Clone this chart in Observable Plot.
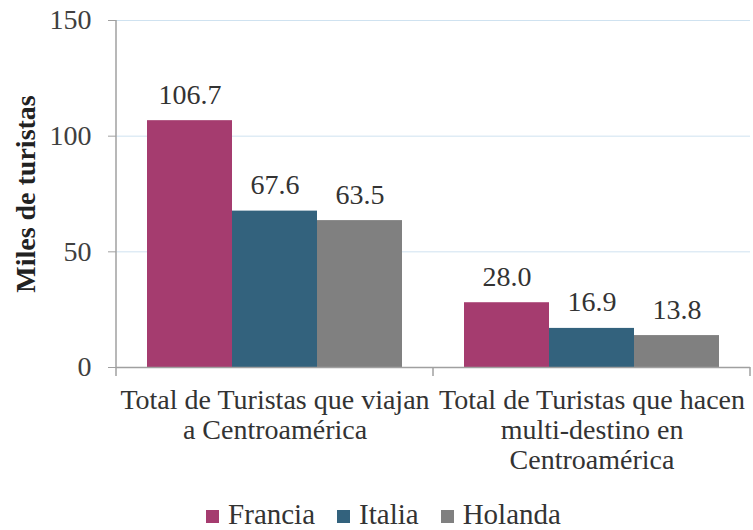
<!DOCTYPE html>
<html>
<head>
<meta charset="utf-8">
<script src="https://cdn.jsdelivr.net/npm/d3@7"></script>
<script src="https://cdn.jsdelivr.net/npm/@observablehq/plot@0.6"></script>
<style>
  body { margin: 0; background: #fff; font-family: "Liberation Serif", "DejaVu Serif", serif; overflow: hidden; }
  #chart { height: 495px; }
  #chart svg, #chart svg text { font-family: "Liberation Serif", "DejaVu Serif", serif !important; overflow: visible; }
  #chart g[aria-label="y-axis label"] text { font-weight: bold; fill: #222; }
  .legend { display: flex; justify-content: center; align-items: flex-end; height: 34px; font-size: 29px; line-height: 29px; color: #333; gap: 22px; padding-left: 14px; }
  .legend span.sw { display: inline-block; width: 13px; height: 13px; margin-right: 9px; margin-top: 3px; }
  .legend .item { display: flex; align-items: center; }
</style>
</head>
<body>
<div id="chart"></div>
<script>
const categories = ["Total de Turistas que viajan\na Centroamérica", "Total de Turistas que hacen\nmulti-destino en\nCentroamérica"];
const countries = ["Francia", "Italia", "Holanda"];
const colors = ["#A53C6F", "#33627D", "#808080"];
const francia = [106.7, 28.0];
const italia = [67.6, 16.9];
const holanda = [63.5, 13.8];
const yTicks = [0, 50, 100, 150];

const series = [francia, italia, holanda];
const data = [];
categories.forEach((c, i) => countries.forEach((k, j) => data.push({cat: c, country: k, value: series[j][i]})));

const plot = Plot.plot({
  width: 753,
  height: 495,
  marginLeft: 116,
  marginRight: 3,
  marginTop: 20,
  marginBottom: 128,
  style: {fontFamily: "'Liberation Serif', 'DejaVu Serif', serif", fontSize: "28px", color: "#404040", background: "#fff"},
  fx: {domain: categories, paddingInner: 0, paddingOuter: 0},
  x: {domain: countries, paddingInner: 0, paddingOuter: 0.354, axis: null},
  y: {domain: [0, 150]},
  color: {domain: countries, range: colors},
  marks: [
    Plot.gridY(yTicks.slice(1), {stroke: "#cfe2f0", strokeOpacity: 1}),
    Plot.barY(data, {fx: "cat", x: "country", y: "value", fill: "country"}),
    Plot.text(data, {fx: "cat", x: "country", y: "value", text: d => d.value.toFixed(1), dy: -26, fontSize: 28, fill: "#333"}),
    Plot.ruleY([0], {stroke: "#a0a0a0", strokeWidth: 1.5}),
    Plot.axisY({ticks: yTicks, tickSize: 8, tickPadding: 17, fontSize: 28, stroke: "#a0a0a0", fill: "#404040",
      label: "Miles de turistas", labelAnchor: "center", labelArrow: false, labelOffset: 101}),
    Plot.axisFx({anchor: "bottom", tickSize: 0, tickPadding: 20, fontSize: 28, lineHeight: 1.07, fill: "#333", label: null})
  ]
});

document.getElementById("chart").appendChild(plot);

// axis line and category boundary ticks using the plot's scales
const fx = plot.scale("fx"), y = plot.scale("y");
const svg = d3.select(plot);
const x0 = fx.range[0], x1 = fx.range[1];
svg.append("line").attr("x1", x0).attr("x2", x0).attr("y1", y.apply(150)).attr("y2", y.apply(0))
  .attr("stroke", "#a0a0a0").attr("stroke-width", 1.5);
const bounds = fx.domain.map(d => fx.apply(d)).concat([x1]);
bounds.forEach(b => svg.append("line").attr("x1", b).attr("x2", b).attr("y1", y.apply(0)).attr("y2", y.apply(0) + 9)
  .attr("stroke", "#a0a0a0").attr("stroke-width", 1.5));

// legend
const legend = d3.select("body").append("div").attr("class", "legend");
countries.forEach((k, i) => {
  const it = legend.append("div").attr("class", "item");
  it.append("span").attr("class", "sw").style("background", colors[i]);
  it.append("span").text(k);
});
</script>
</body>
</html>
